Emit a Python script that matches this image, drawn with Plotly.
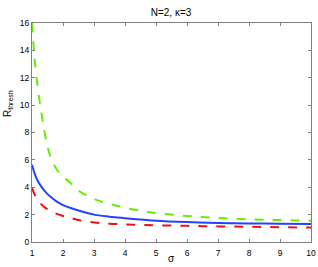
import plotly.graph_objects as go

sigma = [1, 1.05, 1.1, 1.2, 1.3, 1.4, 1.5, 1.6, 1.8, 2, 2.25, 2.5, 3, 3.5, 4, 4.5, 5, 6, 7, 8, 9, 10]
green_vals = [16.0, 14.4, 13.0, 11.0, 9.5, 8.1, 7.0, 6.2, 5.3, 4.8, 4.3, 3.75, 3.15, 2.78, 2.5, 2.29, 2.12, 1.9, 1.75, 1.66, 1.6, 1.55]
blue_vals = [5.65, 5.25, 4.9, 4.4, 4.05, 3.75, 3.5, 3.3, 2.95, 2.7, 2.48, 2.3, 2.0, 1.85, 1.74, 1.64, 1.56, 1.46, 1.39, 1.36, 1.33, 1.31]
red_vals = [3.95, 3.65, 3.4, 3.0, 2.75, 2.55, 2.4, 2.28, 2.05, 1.9, 1.75, 1.6, 1.42, 1.34, 1.29, 1.25, 1.22, 1.18, 1.14, 1.11, 1.08, 1.06]
x_ticks = [1, 2, 3, 4, 5, 6, 7, 8, 9, 10]
y_ticks = [0, 2, 4, 6, 8, 10, 12, 14, 16]

FONT = "Liberation Sans, Arial"

fig = go.Figure()
fig.add_trace(go.Scatter(x=sigma, y=green_vals, mode="lines", line=dict(color="#66ee00", width=2, dash="dash", shape="spline")))
fig.add_trace(go.Scatter(x=sigma, y=blue_vals, mode="lines", line=dict(color="#2244ff", width=2, shape="spline")))
fig.add_trace(go.Scatter(x=sigma, y=red_vals, mode="lines", line=dict(color="#ee1111", width=2, dash="dash", shape="spline")))

axis_common = dict(showline=True, linecolor="#808080", linewidth=1, mirror="ticks", ticks="inside",
                   ticklen=3, tickcolor="#808080", showgrid=False, zeroline=False,
                   tickfont=dict(family=FONT, size=8.5, color="black"))

fig.update_layout(
    width=318, height=267,
    margin=dict(l=32, r=7, t=23, b=25, autoexpand=False),
    paper_bgcolor="white", plot_bgcolor="white",
    showlegend=False,
    title=dict(text="N=2, κ=3", x=171 / 318, xanchor="center", y=1 - 12 / 267, yanchor="middle",
               font=dict(family=FONT, size=10, color="black")),
    xaxis=dict(range=[1, 10], tickvals=x_ticks, ticklabelstandoff=3, **axis_common),
    yaxis=dict(range=[0, 16], tickvals=y_ticks, **axis_common),
    annotations=[
        dict(text="σ", xref="paper", yref="paper", x=0.5, y=-16 / 219, xanchor="center",
             yanchor="middle", showarrow=False, font=dict(family=FONT, size=10, color="black")),
        dict(text="R<sub>thresh</sub>", xref="paper", yref="paper", x=-24 / 279, y=(242 - 103) / 219,
             xanchor="center", yanchor="middle", textangle=-90, showarrow=False,
             font=dict(family=FONT, size=10, color="black")),
    ],
)

fig.write_html("out.html", config={"displayModeBar": False},
               post_script="document.body.style.margin='0';")
